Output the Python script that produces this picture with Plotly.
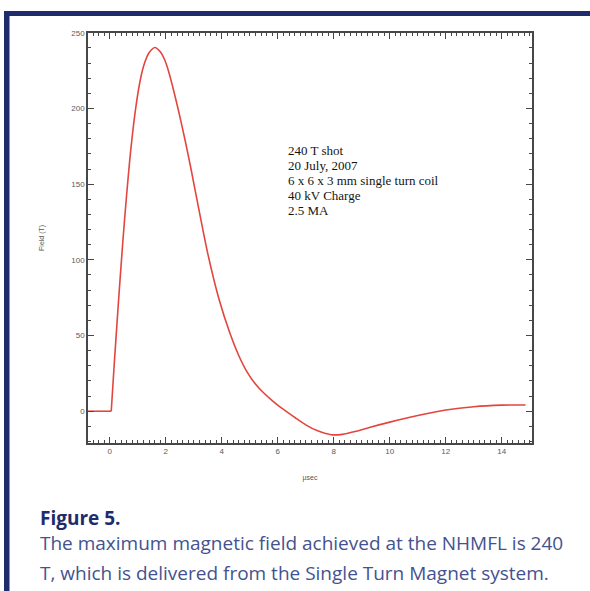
import plotly.graph_objects as go

W, H = 590, 591

# Pulse record: time (µsec) and field (T)
t_base = [-0.78, 0.05]
b_base = [0, 0]

t_pulse = [0.05, 0.15, 0.3, 0.46, 0.6, 0.75, 0.93, 1.1, 1.25, 1.4, 1.61,
           1.8, 1.95, 2.1, 2.25, 2.46, 2.7, 2.9, 3.1, 3.5, 3.9, 4.3, 4.6,
           4.9, 5.2, 5.5, 5.8, 6.1, 6.6, 7.0, 7.4, 7.9, 8.3, 8.8, 9.3, 10.0,
           11.0, 12.0, 13.0, 14.0, 14.85]
b_pulse = [0, 29, 70, 111, 143, 173, 201, 220, 230.5, 236.8, 240.3,
           237.5, 232.5, 224.5, 214, 198, 178, 160, 141, 104, 74, 51, 37,
           26, 18, 12, 7, 2.5, -4, -9, -12.8, -15.5, -15.3, -13.2, -10.6,
           -7.2, -2.8, 0.8, 3.0, 4.0, 4.1]

x_ticks = [0, 2, 4, 6, 8, 10, 12, 14]
y_ticks = [0, 50, 100, 150, 200, 250]

shot_notes = ["240 T shot", "20 July, 2007", "6 x 6 x 3 mm single turn coil",
              "40 kV Charge", "2.5 MA"]

caption_title = "Figure 5."
caption_lines = ["The maximum magnetic field achieved at the NHMFL is 240",
                 "T, which is delivered from the Single Turn Magnet system."]

RED = "#e2463e"
NAVY = "#1f2c6c"
CAPTION = "#44528f"
AXIS = "#474747"


def px(x):
    return x / W


def py(y):
    return 1 - y / H


fig = go.Figure()
fig.add_trace(go.Scatter(x=t_base, y=b_base, mode="lines",
                         line=dict(color=RED, width=1.6), showlegend=False))
fig.add_trace(go.Scatter(x=t_pulse, y=b_pulse, mode="lines",
                         line=dict(color=RED, width=1.6, shape="spline",
                                   smoothing=0.8),
                         showlegend=False))

tick_font = dict(family="Liberation Sans, Arial", size=8, color="#5a5a5a")
title_font = dict(family="Liberation Sans, Arial", size=7, color="#555555")

fig.update_layout(
    width=W, height=H,
    margin=dict(l=0, r=0, t=0, b=0),
    paper_bgcolor="white", plot_bgcolor="white",
    xaxis=dict(domain=[px(88), px(532)], range=[-0.78, 15.08],
               tickvals=x_ticks, ticktext=[str(v) for v in x_ticks],
               ticks="inside", ticklen=6, tickwidth=1, tickcolor=AXIS,
               minor=dict(dtick=0.2, tick0=0, ticks="inside", ticklen=3,
                          tickcolor=AXIS, showgrid=False),
               showline=True, linecolor=AXIS, linewidth=1.5, mirror="ticks",
               showgrid=False, zeroline=False, tickfont=tick_font,
               title=dict(text="µsec", font=title_font, standoff=20)),
    yaxis=dict(domain=[py(442), py(29)], range=[-21, 250],
               tickvals=y_ticks, ticktext=[str(v) for v in y_ticks],
               ticks="inside", ticklen=6, tickwidth=1, tickcolor=AXIS,
               minor=dict(dtick=10, tick0=0, ticks="inside", ticklen=3,
                          tickcolor=AXIS, showgrid=False),
               showline=True, linecolor=AXIS, linewidth=1.5, mirror="ticks",
               showgrid=False, zeroline=False, tickfont=tick_font,
               title=dict(text="Field (T)", font=title_font, standoff=26)),
)

# Shot details block, one line at a time
for i, note in enumerate(shot_notes):
    fig.add_annotation(x=px(286), y=py(147 + 15.2 * i), xref="paper",
                       yref="paper", xanchor="left", yanchor="middle",
                       showarrow=False, text=note,
                       font=dict(family="Liberation Serif, Times New Roman",
                                 size=13, color="#151515"))

# Caption below the chart
fig.add_annotation(x=px(38), y=py(518), xref="paper", yref="paper",
                   xanchor="left", yanchor="middle", showarrow=False,
                   text="<b>" + caption_title + "</b>",
                   font=dict(family="Open Sans", size=19, color=NAVY))
for i, line in enumerate(caption_lines):
    fig.add_annotation(x=px(38), y=py(543 + 29.5 * i), xref="paper",
                       yref="paper", xanchor="left", yanchor="middle",
                       showarrow=False, text=line,
                       font=dict(family="Open Sans", size=19, color=CAPTION))

# Frame bars along the top and left edges
fig.add_shape(type="rect", xref="paper", yref="paper",
              x0=px(4), x1=px(590), y0=py(12), y1=py(7),
              fillcolor=NAVY, line=dict(width=0), layer="above")
fig.add_shape(type="rect", xref="paper", yref="paper",
              x0=px(4), x1=px(9.5), y0=py(591), y1=py(7),
              fillcolor=NAVY, line=dict(width=0), layer="above")

fig.write_html("out.html")
